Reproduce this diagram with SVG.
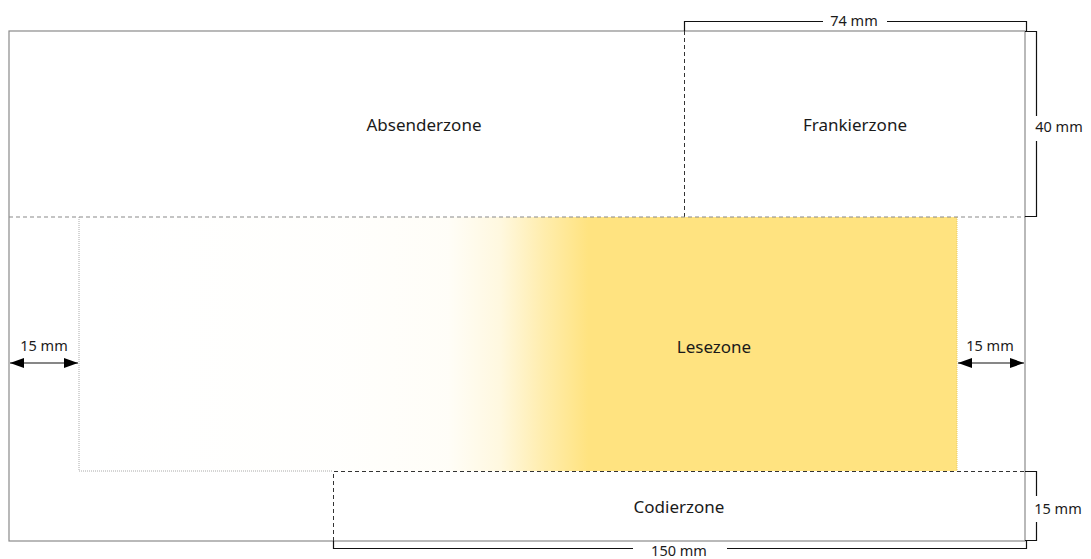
<svg xmlns="http://www.w3.org/2000/svg" width="1091" height="559" viewBox="0 0 1091 559">
<style>
.lbl{font-family:"Noto Sans","Open Sans",sans-serif;font-size:17px;fill:#1a1a1a;text-anchor:middle}
.dim{font-family:"Noto Sans","Open Sans",sans-serif;font-size:14.5px;fill:#1a1a1a;text-anchor:middle}
.env{fill:#fff;stroke:#8a8a8a;stroke-width:1.2}
.gdash{fill:none;stroke:#8a8a8a;stroke-width:1.2;stroke-dasharray:4 3}
.kdash{fill:none;stroke:#333;stroke-width:1;stroke-dasharray:4 3}
.dot{fill:none;stroke:#aaa;stroke-width:1;stroke-dasharray:1 1}
.dl{fill:none;stroke:#111;stroke-width:1.2}
</style>
<defs>
<linearGradient id="yg" x1="79" y1="0" x2="957" y2="0" gradientUnits="userSpaceOnUse">
<stop offset="0" stop-color="#ffe380" stop-opacity="0"/>
<stop offset="0.3" stop-color="#ffe380" stop-opacity="0.02"/>
<stop offset="0.42" stop-color="#ffe380" stop-opacity="0.06"/>
<stop offset="0.48" stop-color="#ffe380" stop-opacity="0.25"/>
<stop offset="0.53" stop-color="#ffe380" stop-opacity="0.65"/>
<stop offset="0.58" stop-color="#ffe380" stop-opacity="1"/>
<stop offset="1" stop-color="#ffe380" stop-opacity="1"/>
</linearGradient>
<marker id="ah" viewBox="0 0 14 10" refX="14" refY="5" markerWidth="14" markerHeight="10" markerUnits="userSpaceOnUse" orient="auto-start-reverse">
<path d="M0,0 L14,5 L0,10 Z" fill="#000"/>
</marker>
</defs>
<g id="envelope">
<rect class="env" x="9" y="31" width="1016" height="510"/>
</g>
<g id="lesezone">
<rect x="79" y="217" width="878" height="254" fill="url(#yg)"/>
<path class="dot" d="M79,217 V471 H333"/>
<path d="M957,217 V471" fill="none" stroke="#e8c860" stroke-width="1" stroke-dasharray="1 1"/>
<text class="lbl" x="714" y="353">Lesezone</text>
</g>
<g id="absenderzone">
<text class="lbl" x="424" y="131">Absenderzone</text>
</g>
<g id="frankierzone">
<path class="kdash" d="M684.5,31 V217"/>
<text class="lbl" x="855" y="131">Frankierzone</text>
</g>
<g id="codierzone">
<path class="kdash" d="M333.5,541 V471.5 H1025"/>
<text class="lbl" x="679" y="513">Codierzone</text>
</g>
<g id="connectors">
<path class="gdash" d="M9,217 H1025"/>
<path class="dl" d="M684.5,31 V21.5 H823 M887,21.5 H1026.5 V31"/>
<path class="dl" d="M1025,31.5 H1036.5 V116 M1036.5,141 V216.5 H1025"/>
<path class="dl" d="M1025,471.5 H1036.5 V496 M1036.5,522 V540.5 H1025"/>
<path class="dl" d="M333.5,541 V548.5 H633 M727,548.5 H1026.5 V541"/>
<line class="dl" x1="10" y1="363" x2="78" y2="363" marker-start="url(#ah)" marker-end="url(#ah)"/>
<line class="dl" x1="958" y1="363" x2="1024" y2="363" marker-start="url(#ah)" marker-end="url(#ah)"/>
</g>
<g id="labels">
<text class="dim" x="854" y="26">74 mm</text>
<text class="dim" x="1059" y="132">40 mm</text>
<text class="dim" x="1058" y="514">15 mm</text>
<text class="dim" x="679" y="556">150 mm</text>
<text class="dim" x="44" y="351">15 mm</text>
<text class="dim" x="990" y="351">15 mm</text>
</g>
</svg>
